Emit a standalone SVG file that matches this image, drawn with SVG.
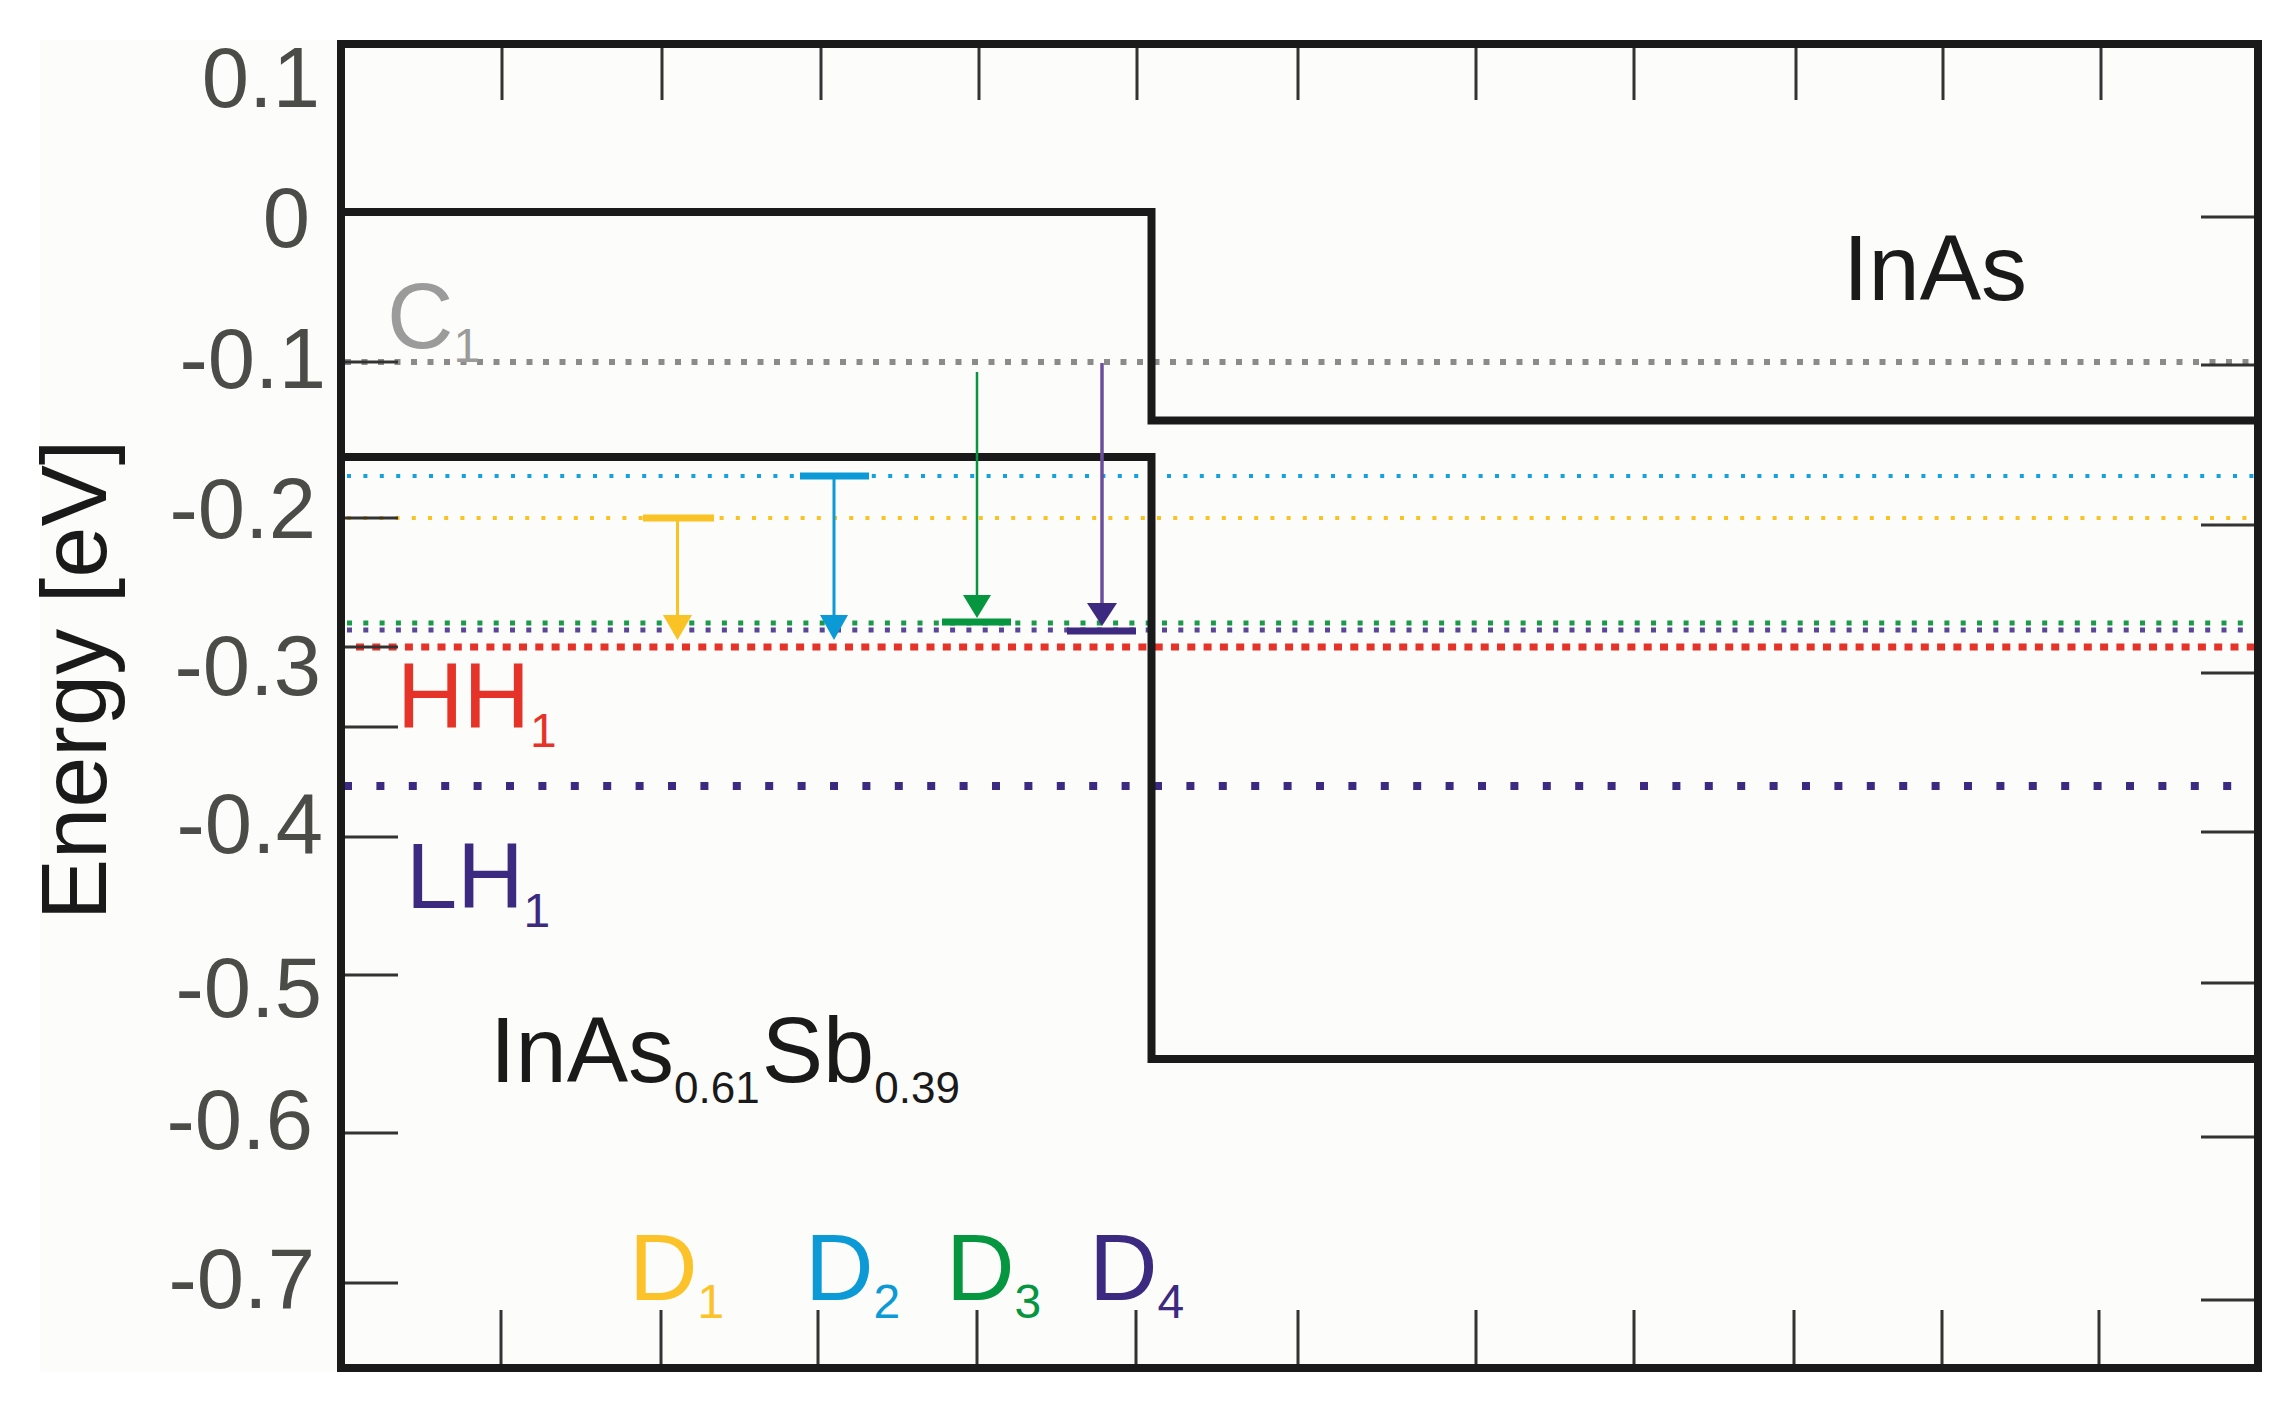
<svg xmlns="http://www.w3.org/2000/svg" width="2292" height="1401" viewBox="0 0 2292 1401">
<style>
text{font-family:"Liberation Sans",Arial,sans-serif}
.tl{font-size:85px;fill:#4b4b47;text-anchor:end}
.lbl{font-size:92px}
.sub{font-size:48px}
.frame{fill:none;stroke:#1a1a1a;stroke-width:8}
.band{fill:none;stroke:#1a1a1a;stroke-width:8;stroke-linejoin:miter}
.tick{stroke:#333;stroke-width:3;fill:none}
.lev{fill:none}
</style>
<rect x="0" y="0" width="2292" height="1401" fill="#ffffff"/>
<rect x="40" y="40" width="2222" height="1332" fill="#fcfcfa"/>

<g id="levels">
<line class="lev" x1="345" y1="362" x2="2254" y2="362" stroke="#8b8b8b" stroke-width="6" stroke-dasharray="6 10.5"/>
<line class="lev" x1="347" y1="476" x2="2254" y2="476" stroke="#14a1dc" stroke-width="4" stroke-dasharray="4 12.4"/>
<line class="lev" x1="347" y1="518" x2="2254" y2="518" stroke="#f9c225" stroke-width="4" stroke-dasharray="4 12.2"/>
<line class="lev" x1="347" y1="623" x2="2254" y2="623" stroke="#1a9a4a" stroke-width="5" stroke-dasharray="5 11.3"/>
<line class="lev" x1="347" y1="630" x2="2254" y2="630" stroke="#5a4596" stroke-width="5" stroke-dasharray="5 11.3"/>
<line class="lev" x1="356" y1="647" x2="2254" y2="647" stroke="#e5332a" stroke-width="7" stroke-dasharray="8 8.3"/>
<line class="lev" x1="344" y1="786" x2="2254" y2="786" stroke="#3b2a80" stroke-width="8" stroke-dasharray="8 24.4"/>
</g>

<g id="axes">
<rect class="frame" x="341" y="44" width="1917" height="1324"/>
<path class="tick" d="M502 48V100M662 48V100M821 48V100M979 48V100M1137 48V100M1298 48V100M1476 48V100M1634 48V100M1796 48V100M1943 48V100M2101 48V100"/>
<path class="tick" d="M501 1364V1310M661 1364V1310M818 1364V1310M977 1364V1310M1136 1364V1310M1298 1364V1310M1476 1364V1310M1634 1364V1310M1794 1364V1310M1942 1364V1310M2099 1364V1310"/>
<path class="tick" d="M345 362H398M345 518H398M345 647H398M345 727H398M345 837H398M345 975H398M345 1133H398M345 1283H398"/>
<path class="tick" d="M2254 217H2201M2254 365H2201M2254 525H2201M2254 673H2201M2254 832H2201M2254 983H2201M2254 1137H2201M2254 1300H2201"/>
</g>

<g id="tick-labels">
<text class="tl" x="320" y="107">0.1</text>
<text class="tl" x="310" y="247">0</text>
<text class="tl" x="326" y="388">-0.1</text>
<text class="tl" x="316" y="538">-0.2</text>
<text class="tl" x="321" y="695">-0.3</text>
<text class="tl" x="323" y="853">-0.4</text>
<text class="tl" x="322" y="1017">-0.5</text>
<text class="tl" x="313" y="1149">-0.6</text>
<text class="tl" x="315" y="1308">-0.7</text>
</g>

<g id="y-axis-title">
<text class="lbl" transform="translate(106,680) rotate(-90)" text-anchor="middle" fill="#1a1a1a">Energy [eV]</text>
</g>

<g id="band-edges">
<path class="band" d="M341 212H1151.5V420.5H2258"/>
<path class="band" d="M341 457H1151.5V1059H2258"/>
</g>

<g id="connectors">
<g id="D1-arrow" fill="#f9c225" stroke="#f9c225">
<line x1="643" y1="518" x2="714" y2="518" stroke-width="7"/>
<line x1="677.5" y1="518" x2="677.5" y2="617" stroke-width="3"/>
<polygon points="663,615 692,615 677.5,640" stroke="none"/>
</g>
<g id="D2-arrow" fill="#0b9ad6" stroke="#0b9ad6">
<line x1="800" y1="476" x2="869" y2="476" stroke-width="7"/>
<line x1="834" y1="476" x2="834" y2="617" stroke-width="3"/>
<polygon points="820,615 848,615 834,640" stroke="none"/>
</g>
<g id="D3-arrow" fill="#06963f" stroke="#06963f">
<line x1="977" y1="372" x2="977" y2="598" stroke-width="2.5"/>
<polygon points="963,595 991,595 977,618" stroke="none"/>
<line x1="942" y1="622" x2="1011" y2="622" stroke-width="7"/>
</g>
<g id="D4-arrow">
<line x1="1102" y1="363" x2="1102" y2="606" stroke="#6c4f9c" stroke-width="3.5"/>
<polygon points="1087,603 1117,603 1102,626" fill="#3d2a80"/>
<line x1="1067" y1="631" x2="1136" y2="631" stroke="#3d2a80" stroke-width="7"/>
</g>
</g>

<g id="label-C1"><text class="lbl" x="387" y="348" fill="#9b9b9b">C<tspan class="sub" dy="14">1</tspan></text></g>
<g id="label-HH1"><text class="lbl" x="397" y="728" fill="#e5332a">HH<tspan class="sub" dy="19">1</tspan></text></g>
<g id="label-LH1"><text class="lbl" x="406" y="908" fill="#3b2a80">LH<tspan class="sub" dy="19">1</tspan></text></g>
<g id="label-InAs"><text class="lbl" x="1843" y="300" fill="#1a1a1a">InAs</text></g>
<g id="label-InAsSb"><text class="lbl" x="490" y="1082" fill="#1a1a1a">InAs<tspan font-size="44" dy="21">0.61</tspan><tspan dy="-21" dx="2">Sb</tspan><tspan font-size="44" dy="21">0.39</tspan></text></g>

<g id="label-D1"><text x="629" y="1300" font-size="95" fill="#fbc22a">D<tspan class="sub" dy="18">1</tspan></text></g>
<g id="label-D2"><text x="805" y="1300" font-size="95" fill="#0b9ad6">D<tspan class="sub" dy="18">2</tspan></text></g>
<g id="label-D3"><text x="946" y="1300" font-size="95" fill="#06963f">D<tspan class="sub" dy="18">3</tspan></text></g>
<g id="label-D4"><text x="1089" y="1300" font-size="95" fill="#3b2a80">D<tspan class="sub" dy="18">4</tspan></text></g>
</svg>
